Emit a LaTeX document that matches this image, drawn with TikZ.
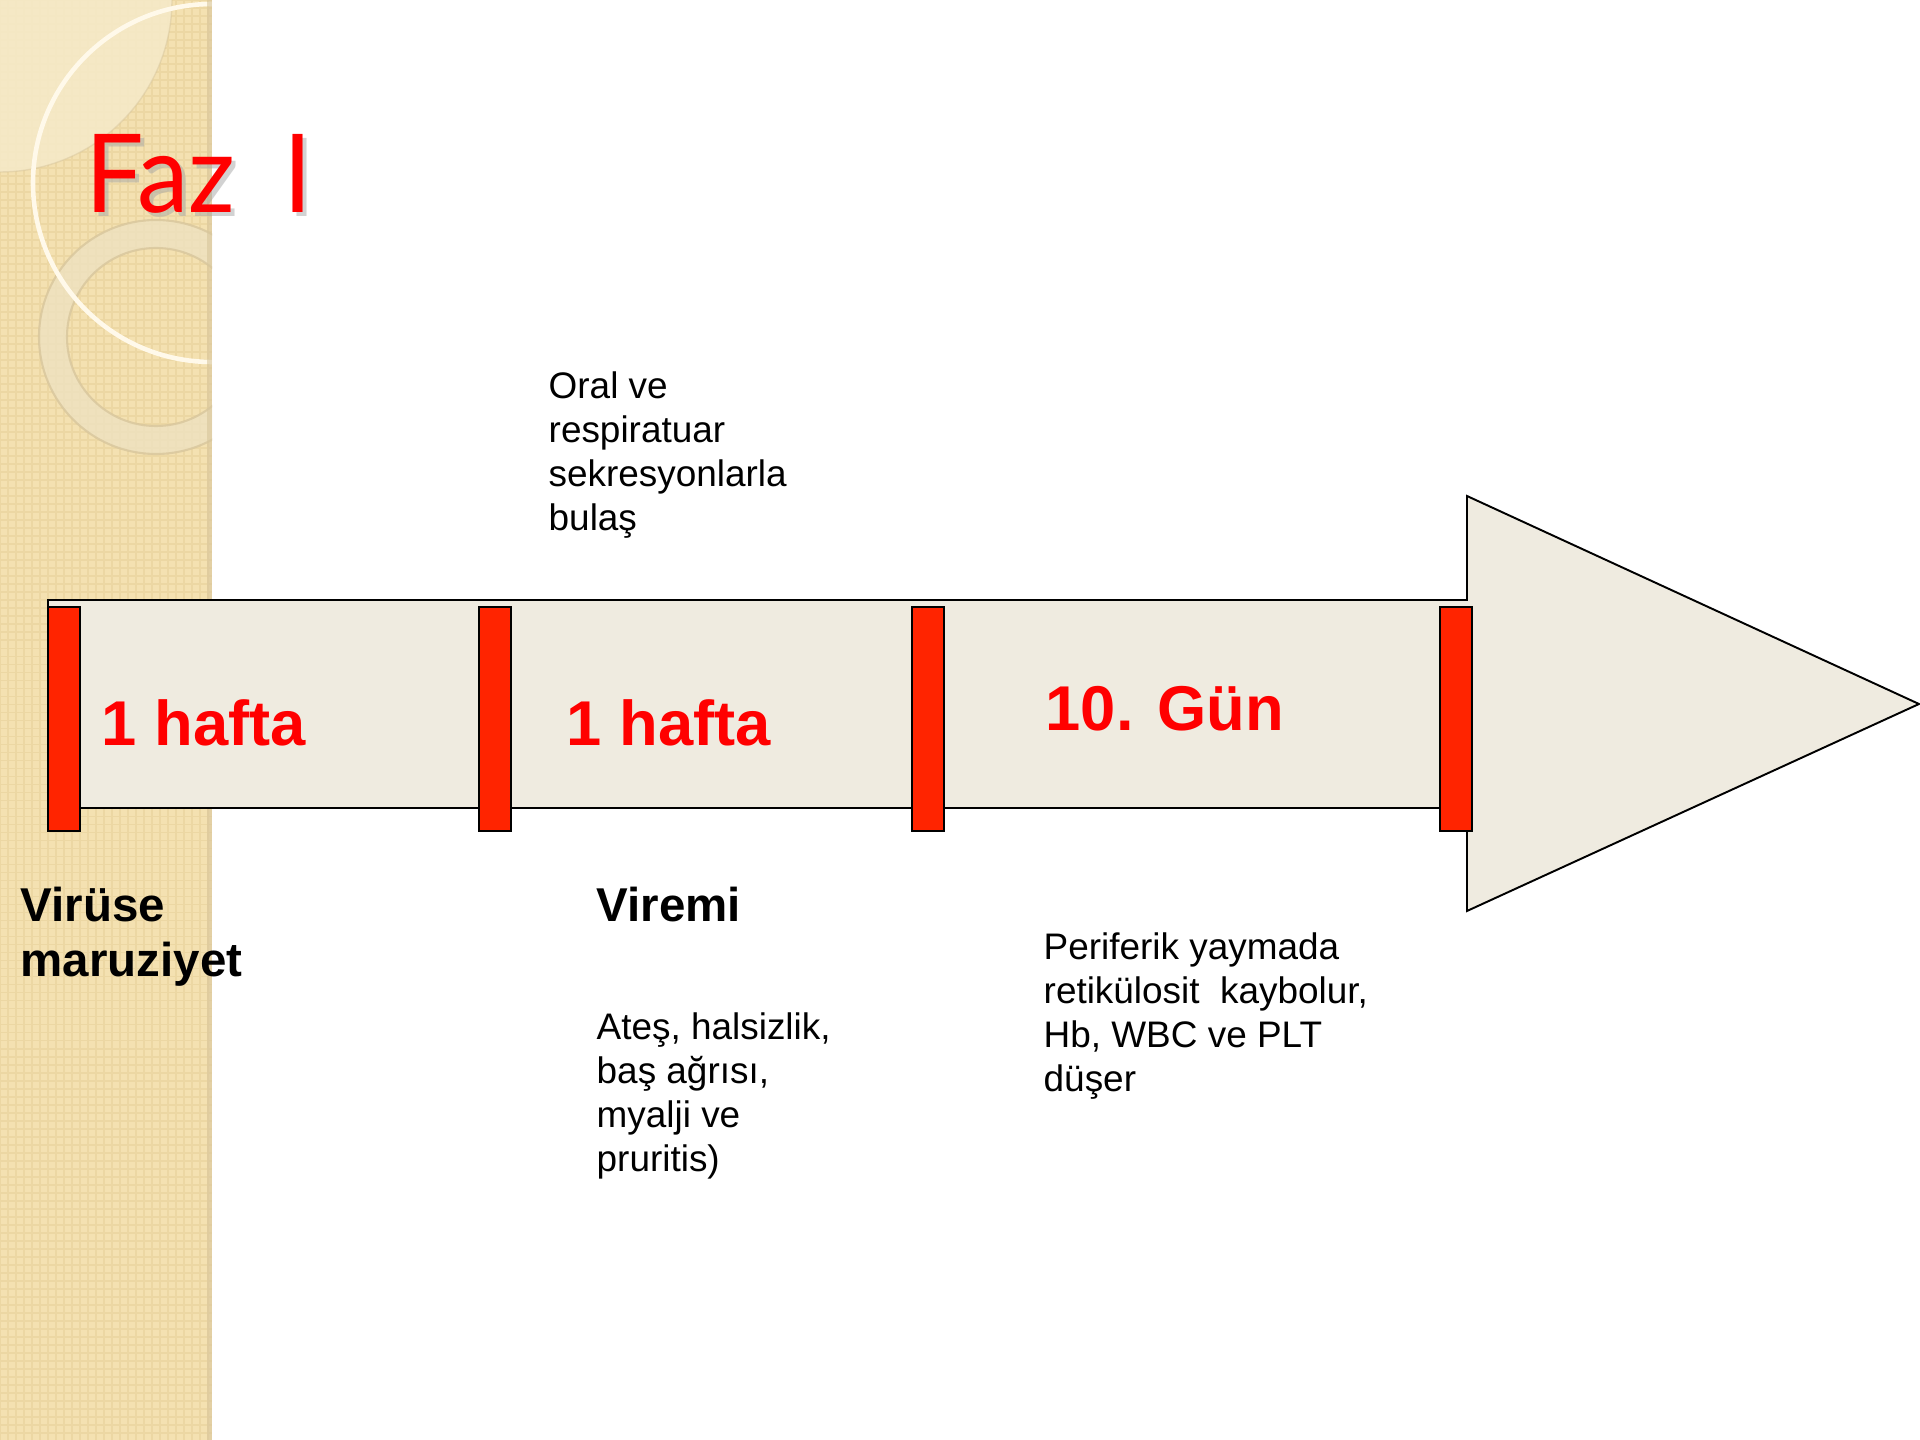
\documentclass[tikz,border=0pt]{standalone}
\usepackage{fontspec}
\setmainfont{Liberation Sans}
\newfontfamily\titlefont{Lato}
\newcommand\mylines[1]{\begin{tabular}[t]{@{}l@{}}#1\end{tabular}}
\definecolor{sidebar}{HTML}{F4E1B1}
\definecolor{sidegrid}{HTML}{E6CF98}
\definecolor{lightquad}{HTML}{F6EAC9}
\definecolor{ringwhite}{HTML}{FFF9EA}
\definecolor{ringtwo}{HTML}{EEE2C2}
\definecolor{ringedge}{HTML}{D8C69C}
\definecolor{arrowfill}{HTML}{EFEBE0}
\definecolor{barred}{HTML}{FF2400}
\definecolor{titlered}{HTML}{FF0000}
\tikzset{
  bar/.style={draw=black, fill=barred, line width=0.55pt, minimum width=0.32cm, minimum height=2.24cm, inner sep=0pt},
  hafta/.style={font=\fontsize{18}{21}\selectfont\bfseries, text=titlered, anchor=base west, inner sep=0pt},
  boldlbl/.style={font=\fontsize{13.5}{15.6}\selectfont\bfseries, anchor=base west, inner sep=0pt},
  bodytxt/.style={font=\fontsize{10.5}{12.5}\selectfont, anchor=base west, inner sep=0pt},
  titletxt/.style={font=\titlefont\fontsize{31}{36}\selectfont, anchor=base west, inner sep=0pt},
}
\begin{document}
\begin{tikzpicture}[x=0.01cm,y=-0.01cm]
\useasboundingbox (0,0) rectangle (1920,1440);
\fill[white] (0,0) rectangle (1920,1440);
% sidebar background
\fill[sidebar] (0,0) rectangle (212,1440);
\begin{scope}
  \clip (0,0) rectangle (212,1440);
  \draw[sidegrid, line width=0.5pt, opacity=0.55] (0,0) grid[step=0.08cm] (212,1440);
  \fill[lightquad, opacity=0.85] (0,0) -- (172,0) arc[start angle=0, end angle=90, radius=172] -- cycle;
  \draw[ringedge, opacity=0.5, line width=0.4pt] (172,0) arc[start angle=0, end angle=90, radius=172];
  \fill[ringtwo, opacity=0.75, even odd rule] (156,337) circle[radius=117] (156,337) circle[radius=89];
  \draw[ringedge, line width=0.6pt, opacity=0.8] (156,337) circle[radius=117] (156,337) circle[radius=89];
  \draw[ringwhite, line width=1.3pt] (212,183) circle[radius=179];
  \fill[ringedge, opacity=0.6] (207,0) rectangle (212,1440);
\end{scope}
% title
\node[titletxt, text=black!35, opacity=0.5] (titleshadow) at (89,217) {\scalebox{0.95}[1]{Faz\hspace{0.47em}I}};
\node[titletxt, text=titlered] (title) at (85,213) {\scalebox{0.95}[1]{Faz\hspace{0.47em}I}};
% arrow
\draw[fill=arrowfill, line width=0.55pt, line join=miter]
  (48,600) -- (1467,600) -- (1467,496) -- (1919,704) -- (1467,911) -- (1467,808) -- (48,808) -- cycle;
% bars
\node[bar] (b1) at (64,719) {};
\node[bar] (b2) at (495,719) {};
\node[bar] (b3) at (928,719) {};
\node[bar] (b4) at (1456,719) {};
% labels in arrow
\node[hafta] (h1) at (101,746) {1 hafta};
\node[hafta] (h2) at (566,746) {1 hafta};
\node[hafta] (h3) at (1045,731) {10. Gün};
% texts
\node[bodytxt] (oral) at (548,399) {\mylines{Oral ve\\respiratuar\\sekresyonlarla\\bulaş}};
\node[boldlbl] (virus) at (20,922) {\fontsize{13.5}{15.6}\selectfont\mylines{Virüse\\maruziyet}};
\node[boldlbl] (viremi) at (596,922) {Viremi};
\node[bodytxt] (ates) at (596,1040) {\mylines{Ateş, halsizlik,\\baş ağrısı,\\myalji ve\\pruritis)}};
\node[bodytxt] (perif) at (1043,960) {\mylines{Periferik yaymada\\retikülosit\ \ kaybolur,\\Hb, WBC ve PLT\\düşer}};
\end{tikzpicture}
\end{document}
